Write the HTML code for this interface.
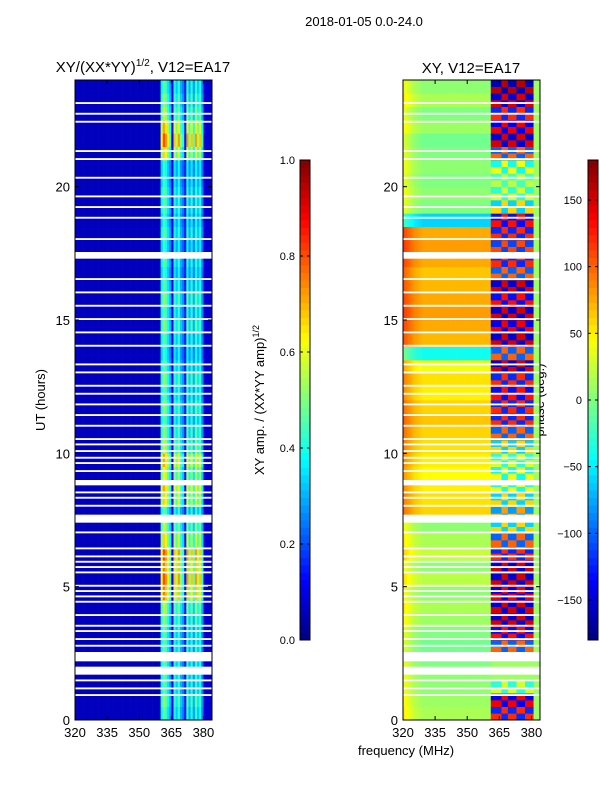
<!DOCTYPE html>
<html><head><meta charset="utf-8">
<style>
body{margin:0;background:#fff;}
svg{display:block;font-family:"Liberation Sans","DejaVu Sans",sans-serif;}
</style></head>
<body>
<svg id="fig" width="600" height="800" viewBox="0 0 600 800">
<text x="364" y="26" font-size="13" text-anchor="middle">2018-01-05 0.0-24.0</text>
<text x="143" y="72" font-size="15" text-anchor="middle">XY/(XX*YY)<tspan font-size="10" dy="-6">1/2</tspan><tspan dy="6">, V12=EA17</tspan></text>
<text x="471" y="73" font-size="15" text-anchor="middle">XY, V12=EA17</text>
<text x="406" y="755" font-size="13" text-anchor="middle">frequency (MHz)</text>
<text transform="translate(45,400) rotate(-90)" font-size="13" text-anchor="middle">UT (hours)</text>
<text transform="translate(264,400) rotate(-90)" font-size="13" text-anchor="middle">XY amp. / (XX*YY amp)<tspan font-size="9" dy="-5">1/2</tspan></text>
<text transform="translate(544,400) rotate(-90)" font-size="13" text-anchor="middle">phase (deg.)</text>
<g id="lp"></g>
<g id="rp"></g>
<g id="cb"></g>
<g id="ax"></g>
</svg>
<script>
// ---- data ----
const freqStart = 320, freqEnd = 384, hourMax = 24;
const ampCol = [0.06,0.06,0.06,0.06,0.06,0.06,0.06,0.06,0.06,0.06,0.06,0.06,0.06,0.06,0.06,0.06,0.06,0.06,0.06,0.06,
 0.06,0.06,0.06,0.06,0.06,0.06,0.06,0.06,0.06,0.06,0.06,0.06,0.06,0.06,0.06,0.06,0.06,0.06,0.06,0.06,
 0.75,0.95,0.85,0.7,0.55,0.12,0.8,0.65,0.85,0.6,0.5,0.15,0.85,0.6,0.8,0.55,0.85,0.65,0.8,0.5,0.08,0.08,0.08,0.08];
const ampRow = [0.5,0.55,0.5,0.5, 0.5,0.5,0.5, 0.55,0.6,0.8,0.85,0.8, 0.85,0.7,0.6, 0.5,0.7,0.75,0.65,0.75,
 0.6,0.55,0.5,0.55, 0.5,0.55,0.5,0.45, 0.5,0.55,0.5,0.55,0.5,0.45,0.5, 0.45,0.5,0.45, 0.5,0.5,0.45,
 0.45,0.7,0.85,0.75,0.6,0.55,0.5];
const phaseLeft = [15,10,5,5, 0,-5,0, 10,15,5,20,5, 25,15,5, 60,55,50,45,50, 55,60,65,60,
 50,55,40,-40, 70,75,80,75,70,65,75, 80,75,-60, 0,5,0, 5,0,-5,10,0,15,5];
const phaseRight = [120,140,30,0, 0,100,130, 150,150,140,150,150, 120,100,60, 80,60,40,40,30,
 60,100,120,120, 130,120,150,100, 150,140,150,130,150,100,120, 110,120,130, 60,30,20,
 40,100,150,140,120,150,160];
const leftTilt = [35,30,25,20,15,10,8,5,3,0];
const rightSign = [1,1,1,1,1,-1,-1,-1,1,1,1,1,-1,-1,-1,-1,1,1,1,1];
const subSign = [1,1,-1,-1];
const gapStart = [0.9,1.15,1.45,1.7,2.2,2.75,3.0,3.3,3.5,3.9,4.4,4.6,4.8,5.0,5.5,5.7,5.9,6.1,6.4,7.0,7.4,8.0,8.3,8.5,8.8,9.3,9.6,9.8,10.05,10.3,10.5,11.0,11.4,11.8,12.2,12.5,13.0,13.3,14.0,14.5,15.0,15.5,16.0,16.5,17.3,18.0,18.8,19.2,19.6,20.3,21.0,21.3,22.4,22.7,23.1];
const gapLen   = [0.07,0.07,0.07,0.3,0.35,0.07,0.07,0.07,0.07,0.07,0.07,0.07,0.07,0.07,0.07,0.07,0.07,0.07,0.07,0.07,0.3,0.07,0.07,0.07,0.2,0.07,0.07,0.07,0.07,0.07,0.07,0.07,0.07,0.07,0.07,0.07,0.07,0.07,0.07,0.07,0.07,0.07,0.07,0.07,0.25,0.07,0.07,0.07,0.07,0.07,0.07,0.07,0.07,0.07,0.07];
const xTicks = [320,335,350,365,380];
const yTicks = [0,5,10,15,20];
const ampTicks = [0.0,0.2,0.4,0.6,0.8,1.0];
const phaseTicks = [-150,-100,-50,0,50,100,150];

// ---- helpers ----
const NS = "http://www.w3.org/2000/svg";
const P = {top:80, bot:720};
const L = {x0:75, x1:212}, R = {x0:403, x1:540};
function xS(p, f){ return p.x0 + (f - freqStart) / (freqEnd - freqStart) * (p.x1 - p.x0); }
function yS(h){ return P.bot - h / hourMax * (P.bot - P.top); }
function jet(v){
  v = Math.max(0, Math.min(1, v));
  const r = Math.max(0, Math.min(1, 1.5 - Math.abs(4*v - 3)));
  const g = Math.max(0, Math.min(1, 1.5 - Math.abs(4*v - 2)));
  const b = Math.max(0, Math.min(1, 1.5 - Math.abs(4*v - 1)));
  return `rgb(${Math.round(r*255)},${Math.round(g*255)},${Math.round(b*255)})`;
}
function rect(parent, x, y, w, h, fill){
  const r = document.createElementNS(NS, "rect");
  r.setAttribute("x", x); r.setAttribute("y", y);
  r.setAttribute("width", w); r.setAttribute("height", h);
  r.setAttribute("fill", fill);
  parent.appendChild(r);
  return r;
}
function txt(parent, x, y, s, anchor, size){
  const t = document.createElementNS(NS, "text");
  t.setAttribute("x", x); t.setAttribute("y", y);
  t.setAttribute("text-anchor", anchor); t.setAttribute("font-size", size);
  t.textContent = s; parent.appendChild(t); return t;
}
function line(parent, x1, y1, x2, y2){
  const l = document.createElementNS(NS, "line");
  l.setAttribute("x1", x1); l.setAttribute("y1", y1); l.setAttribute("x2", x2); l.setAttribute("y2", y2);
  l.setAttribute("stroke", "#000"); l.setAttribute("stroke-width", 1);
  parent.appendChild(l); return l;
}

const lp = document.getElementById("lp"), rp = document.getElementById("rp");
const rowH = hourMax / ampRow.length;
// left amplitude heatmap
for (let i = 0; i < ampRow.length; i++) {
  for (let c = 0; c < ampCol.length; c++) {
    const v = ampCol[c] < 0.3 ? ampCol[c] : ampCol[c] * ampRow[i];
    const x = xS(L, freqStart + c), x2 = xS(L, freqStart + c + 1);
    const y = yS((i + 1) * rowH), y2 = yS(i * rowH);
    const r = rect(lp, x, y, x2 - x + 0.3, y2 - y + 0.3, jet(v));
    
    
  }
}
// right phase heatmap
const nRight = rightSign.length, rightStart = 361;
for (let i = 0; i < phaseLeft.length; i++) {
  for (let s = 0; s < subSign.length; s++) {
    const h0 = i * rowH + s * rowH / subSign.length, h1 = h0 + rowH / subSign.length;
    const y = yS(h1), y2 = yS(h0);
    for (let c = 0; c < freqEnd - freqStart; c++) {
      const f = freqStart + c;
      let ph;
      if (f < rightStart) ph = phaseLeft[i] + (c < leftTilt.length ? leftTilt[c] : 0);
      else if (f < rightStart + nRight) ph = phaseRight[i] === 0 ? 10 : phaseRight[i] * rightSign[f - rightStart] * subSign[s];
      else ph = 10;
      const x = xS(R, f), x2 = xS(R, f + 1);
      const r = rect(rp, x, y, x2 - x + 0.3, y2 - y + 0.3, jet((ph + 180) / 360));
      
      
    }
  }
}
// gaps (flagged rows)
for (let g = 0; g < gapStart.length; g++) {
  [L, R].forEach(p => {
    const y = yS(gapStart[g] + gapLen[g]), y2 = yS(gapStart[g]);
    const r = rect(p === L ? lp : rp, p.x0, y, p.x1 - p.x0, Math.max(1.5, y2 - y), "#fff");
    
    
  });
}
// axes
const ax = document.getElementById("ax");
[L, R].forEach(p => {
  const fr = rect(ax, p.x0, P.top, p.x1 - p.x0, P.bot - P.top, "none");
  fr.setAttribute("stroke", "#000");
  
  
  xTicks.forEach(f => {
    const x = xS(p, f);
    line(ax, x, P.bot, x, P.bot - 4); line(ax, x, P.top, x, P.top + 4);
    const t = txt(ax, x, P.bot + 17, String(f), "middle", 13);
    
    
  });
  yTicks.forEach(h => {
    const y = yS(h);
    line(ax, p.x0, y, p.x0 + 4, y); line(ax, p.x1, y, p.x1 - 4, y);
    const t = txt(ax, p.x0 - 5, y + 5, String(h), "end", 13);
    
    
  });
});
// colorbars
const cb = document.getElementById("cb");
const C1 = {x:300, w:10, top:160, bot:640}, C2 = {x:588, w:10, top:160, bot:640};
const nSteps = 64;
for (let k = 0; k < nSteps; k++) {
  [C1, C2].forEach(c => {
    const h = (c.bot - c.top) / nSteps;
    const r = rect(cb, c.x, c.bot - (k + 1) * h, c.w, h + 0.4, jet((k + 0.5) / nSteps));
    
    
  });
}
[C1, C2].forEach(c => {
  const fr = rect(cb, c.x, c.top, c.w, c.bot - c.top, "none");
  fr.setAttribute("stroke", "#000");
  
  
});
ampTicks.forEach(v => {
  const y = C1.bot - v * (C1.bot - C1.top);
  line(cb, C1.x, y, C1.x + 3, y); line(cb, C1.x + C1.w, y, C1.x + C1.w - 3, y);
  const t = txt(cb, C1.x - 5, y + 4, v.toFixed(1), "end", 11);
  
  
});
phaseTicks.forEach(v => {
  const y = C2.bot - (v + 180) / 360 * (C2.bot - C2.top);
  line(cb, C2.x, y, C2.x + 3, y); line(cb, C2.x + C2.w, y, C2.x + C2.w - 3, y);
  const t = txt(cb, C2.x - 6, y + 4, (v < 0 ? "\u2212" + Math.abs(v) : String(v)), "end", 11);
  
  
});
</script>
</body></html>
